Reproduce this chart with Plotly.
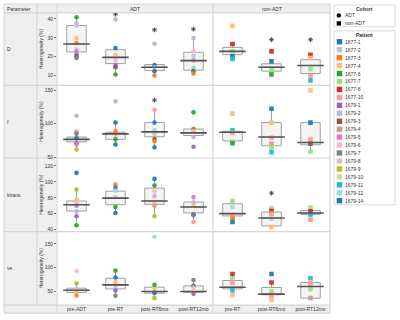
import plotly.graph_objects as go

W, H = 400, 320

PARAMS = ["D", "f", "ktrans", "ve"]
COHORTS = ["ADT", "non-ADT"]
ADT_TIMES = ["pre-ADT", "pre-RT", "post-RT6mo", "post-RT12mo"]
NONADT_TIMES = ["pre-RT", "post-RT6mo", "post-RT12mo"]

PATIENTS = ["1677-1", "1677-2", "1677-3", "1677-4", "1677-6", "1677-7", "1677-8", "1677-10",
            "1679-1", "1679-2", "1679-3", "1679-4", "1679-5", "1679-6", "1679-7", "1679-8",
            "1679-9", "1679-10", "1679-11", "1679-12", "1679-14"]
PATIENT_COLORS = ["#1f77b4", "#aec7e8", "#ff7f0e", "#ffbb78", "#2ca02c", "#98df8a", "#d62728", "#ff9896",
                  "#9467bd", "#c5b0d5", "#8c564b", "#c49c94", "#e377c2", "#f7b6d2", "#7f7f7f", "#c7c7c7",
                  "#bcbd22", "#dbdb8d", "#17becf", "#9edae5", "#1f77b4"]

Y_RANGES = [[4.7, 43.2], [48.5, 157.5], [37.5, 130], [21.5, 175.6]]
Y_TICKS = [[10, 20, 30, 40], [50, 100, 150], [40, 60, 80, 100, 120], [50, 100, 150]]
Y_TITLE = "Heterogeneity (%)"

# patient points: (cohort, timepoint, patient, value)
D_POINTS = [
    ("ADT", "pre-ADT", "1677-6", 40.9), ("ADT", "pre-ADT", "1679-2", 37.7), ("ADT", "pre-ADT", "1677-2", 36.5),
    ("ADT", "pre-ADT", "1677-4", 29.8), ("ADT", "pre-ADT", "1677-3", 27.2), ("ADT", "pre-ADT", "1679-6", 24.0),
    ("ADT", "pre-ADT", "1679-5", 22.8), ("ADT", "pre-ADT", "1679-1", 21.0), ("ADT", "pre-ADT", "1679-3", 20.2),
    ("ADT", "pre-ADT", "1679-7", 19.3),
    ("ADT", "pre-RT", "1679-2", 39.8), ("ADT", "pre-RT", "1679-14", 24.6), ("ADT", "pre-RT", "1677-4", 21.0),
    ("ADT", "pre-RT", "1679-6", 17.9), ("ADT", "pre-RT", "1679-1", 15.3), ("ADT", "pre-RT", "1679-3", 14.4),
    ("ADT", "pre-RT", "1677-6", 10.5),
    ("ADT", "post-RT6mo", "1679-2", 26.8), ("ADT", "post-RT6mo", "1679-14", 15.6), ("ADT", "post-RT6mo", "1677-2", 14.4),
    ("ADT", "post-RT6mo", "1677-1", 12.3), ("ADT", "post-RT6mo", "1677-3", 10.0),
    ("ADT", "post-RT12mo", "1679-2", 29.8), ("ADT", "post-RT12mo", "1679-6", 22.8), ("ADT", "post-RT12mo", "1677-2", 20.5),
    ("ADT", "post-RT12mo", "1679-4", 18.0), ("ADT", "post-RT12mo", "1677-7", 14.1), ("ADT", "post-RT12mo", "1679-14", 12.3),
    ("ADT", "post-RT12mo", "1677-3", 11.0),
    ("non-ADT", "pre-RT", "1677-4", 36.3), ("non-ADT", "pre-RT", "1677-8", 26.7), ("non-ADT", "pre-RT", "1677-7", 22.8),
    ("non-ADT", "pre-RT", "1677-1", 20.2), ("non-ADT", "pre-RT", "1679-11", 18.8),
    ("non-ADT", "post-RT6mo", "1677-8", 22.8), ("non-ADT", "post-RT6mo", "1677-1", 17.5), ("non-ADT", "post-RT6mo", "1679-12", 13.8),
    ("non-ADT", "post-RT6mo", "1677-7", 12.5), ("non-ADT", "post-RT6mo", "1677-6", 10.5),
    ("non-ADT", "post-RT12mo", "1677-8", 21.0), ("non-ADT", "post-RT12mo", "1677-4", 19.3), ("non-ADT", "post-RT12mo", "1677-7", 13.5),
    ("non-ADT", "post-RT12mo", "1677-10", 9.6), ("non-ADT", "post-RT12mo", "1679-11", 7.3),
]
F_POINTS = [
    ("ADT", "pre-ADT", "1679-2", 111.9), ("ADT", "pre-ADT", "1677-4", 88.7), ("ADT", "pre-ADT", "1677-10", 87.0),
    ("ADT", "pre-ADT", "1679-7", 85.0), ("ADT", "pre-ADT", "1679-14", 78.0), ("ADT", "pre-ADT", "1679-1", 70.7),
    ("ADT", "pre-ADT", "1679-5", 69.0), ("ADT", "pre-ADT", "1679-9", 61.2),
    ("ADT", "pre-RT", "1679-2", 133.6), ("ADT", "pre-RT", "1679-14", 101.7), ("ADT", "pre-RT", "1677-3", 88.7),
    ("ADT", "pre-RT", "1679-6", 82.0), ("ADT", "pre-RT", "1677-6", 76.5), ("ADT", "pre-RT", "1677-1", 68.8),
    ("ADT", "post-RT6mo", "1677-10", 121.0), ("ADT", "post-RT6mo", "1679-14", 101.7), ("ADT", "post-RT6mo", "1677-2", 90.0),
    ("ADT", "post-RT6mo", "1677-7", 85.0), ("ADT", "post-RT6mo", "1679-3", 77.0), ("ADT", "post-RT6mo", "1677-3", 73.6),
    ("ADT", "post-RT6mo", "1677-1", 64.5),
    ("ADT", "post-RT12mo", "1677-6", 117.1), ("ADT", "post-RT12mo", "1679-7", 92.0), ("ADT", "post-RT12mo", "1677-4", 88.7),
    ("ADT", "post-RT12mo", "1679-2", 80.0), ("ADT", "post-RT12mo", "1679-1", 65.5),
    ("non-ADT", "pre-RT", "1677-4", 115.2), ("non-ADT", "pre-RT", "1679-11", 90.1), ("non-ADT", "pre-RT", "1677-10", 86.0),
    ("non-ADT", "pre-RT", "1677-7", 72.8), ("non-ADT", "pre-RT", "1677-6", 70.7),
    ("non-ADT", "post-RT6mo", "1677-1", 122.5), ("non-ADT", "post-RT6mo", "1677-4", 101.7), ("non-ADT", "post-RT6mo", "1677-10", 79.0),
    ("non-ADT", "post-RT6mo", "1679-4", 70.0), ("non-ADT", "post-RT6mo", "1677-7", 64.5), ("non-ADT", "post-RT6mo", "1679-11", 57.2),
    ("non-ADT", "post-RT12mo", "1677-4", 150.0), ("non-ADT", "post-RT12mo", "1677-1", 101.7), ("non-ADT", "post-RT12mo", "1677-10", 76.5),
    ("non-ADT", "post-RT12mo", "1679-3", 70.0), ("non-ADT", "post-RT12mo", "1677-7", 58.2),
]
KTRANS_POINTS = [
    ("ADT", "pre-ADT", "1679-14", 111.3), ("ADT", "pre-ADT", "1679-9", 90.4), ("ADT", "pre-ADT", "1677-4", 77.5),
    ("ADT", "pre-ADT", "1679-6", 73.0), ("ADT", "pre-ADT", "1679-5", 70.0), ("ADT", "pre-ADT", "1679-2", 63.0),
    ("ADT", "pre-ADT", "1679-1", 56.7), ("ADT", "pre-ADT", "1677-6", 45.4),
    ("ADT", "pre-RT", "1677-3", 96.7), ("ADT", "pre-RT", "1679-14", 92.5), ("ADT", "pre-RT", "1677-2", 89.0),
    ("ADT", "pre-RT", "1679-6", 81.0), ("ADT", "pre-RT", "1677-6", 68.3), ("ADT", "pre-RT", "1677-1", 60.9),
    ("ADT", "post-RT6mo", "1679-14", 103.7), ("ADT", "post-RT6mo", "1677-6", 95.4), ("ADT", "post-RT6mo", "1679-6", 88.0),
    ("ADT", "post-RT6mo", "1679-2", 82.0), ("ADT", "post-RT6mo", "1677-4", 73.0), ("ADT", "post-RT6mo", "1679-4", 70.0),
    ("ADT", "post-RT6mo", "1679-9", 56.7),
    ("ADT", "post-RT12mo", "1679-5", 80.8), ("ADT", "post-RT12mo", "1679-2", 74.0), ("ADT", "post-RT12mo", "1677-4", 70.0),
    ("ADT", "post-RT12mo", "1677-6", 59.2), ("ADT", "post-RT12mo", "1679-1", 58.0), ("ADT", "post-RT12mo", "1677-10", 49.6),
    ("non-ADT", "pre-RT", "1677-7", 75.9), ("non-ADT", "pre-RT", "1679-12", 68.3), ("non-ADT", "pre-RT", "1677-10", 58.0),
    ("non-ADT", "pre-RT", "1677-3", 54.6), ("non-ADT", "pre-RT", "1677-1", 49.6),
    ("non-ADT", "post-RT6mo", "1677-7", 67.1), ("non-ADT", "post-RT6mo", "1677-8", 63.3), ("non-ADT", "post-RT6mo", "1677-10", 60.0),
    ("non-ADT", "post-RT6mo", "1679-12", 54.0), ("non-ADT", "post-RT6mo", "1677-4", 43.3),
    ("non-ADT", "post-RT12mo", "1677-7", 67.5), ("non-ADT", "post-RT12mo", "1677-8", 63.0), ("non-ADT", "post-RT12mo", "1679-11", 59.0),
    ("non-ADT", "post-RT12mo", "1677-10", 52.5),
]
VE_POINTS = [
    ("ADT", "pre-ADT", "1679-6", 92.9), ("ADT", "pre-ADT", "1679-9", 67.3), ("ADT", "pre-ADT", "1677-2", 55.0),
    ("ADT", "pre-ADT", "1677-4", 50.0), ("ADT", "pre-ADT", "1677-3", 41.7),
    ("ADT", "pre-RT", "1677-6", 93.8), ("ADT", "pre-RT", "1679-14", 79.2), ("ADT", "pre-RT", "1677-4", 70.0),
    ("ADT", "pre-RT", "1679-2", 62.0), ("ADT", "pre-RT", "1679-1", 52.1), ("ADT", "pre-RT", "1679-7", 40.8),
    ("ADT", "post-RT6mo", "1679-12", 164.6), ("ADT", "post-RT6mo", "1677-6", 63.8), ("ADT", "post-RT6mo", "1677-4", 55.0),
    ("ADT", "post-RT6mo", "1679-14", 47.0), ("ADT", "post-RT6mo", "1679-9", 36.0),
    ("ADT", "post-RT12mo", "1679-7", 74.2), ("ADT", "post-RT12mo", "1679-14", 62.0), ("ADT", "post-RT12mo", "1677-4", 58.0),
    ("ADT", "post-RT12mo", "1679-1", 45.0),
    ("non-ADT", "pre-RT", "1677-8", 86.7), ("non-ADT", "pre-RT", "1677-7", 76.3), ("non-ADT", "pre-RT", "1677-10", 68.0),
    ("non-ADT", "pre-RT", "1679-11", 52.7), ("non-ADT", "pre-RT", "1677-4", 42.9),
    ("non-ADT", "post-RT6mo", "1677-1", 86.7), ("non-ADT", "post-RT6mo", "1677-8", 68.8), ("non-ADT", "post-RT6mo", "1677-7", 50.0),
    ("non-ADT", "post-RT6mo", "1677-10", 40.0), ("non-ADT", "post-RT6mo", "1677-4", 32.5),
    ("non-ADT", "post-RT12mo", "1679-11", 77.7), ("non-ADT", "post-RT12mo", "1677-4", 70.0), ("non-ADT", "post-RT12mo", "1677-10", 66.0),
    ("non-ADT", "post-RT12mo", "1677-7", 55.4), ("non-ADT", "post-RT12mo", "1679-4", 36.0),
]

# box statistics: (cohort, timepoint, lowerfence, q1, median, q3, upperfence)
D_BOXES = [
    ("ADT", "pre-ADT", 19.3, 22.5, 26.7, 36.5, 40.9), ("ADT", "pre-RT", 10.5, 16.3, 19.6, 23.7, 24.6),
    ("ADT", "post-RT6mo", 10.0, 12.6, 14.4, 15.8, 15.8), ("ADT", "post-RT12mo", 11.0, 12.8, 17.9, 22.3, 29.8),
    ("non-ADT", "pre-RT", 18.8, 21.0, 22.8, 24.9, 26.7), ("non-ADT", "post-RT6mo", 10.5, 12.3, 14.4, 16.2, 17.5),
    ("non-ADT", "post-RT12mo", 7.3, 11.0, 15.3, 18.4, 21.0),
]
F_BOXES = [
    ("ADT", "pre-ADT", 61.2, 72.7, 76.5, 80.0, 88.7), ("ADT", "pre-RT", 68.8, 76.5, 84.8, 87.2, 101.7),
    ("ADT", "post-RT6mo", 64.5, 80.4, 87.7, 101.7, 121.0), ("ADT", "post-RT12mo", 80.0, 82.3, 86.2, 92.0, 92.0),
    ("non-ADT", "pre-RT", 70.7, 74.2, 87.2, 88.7, 90.1), ("non-ADT", "post-RT6mo", 57.2, 67.0, 80.0, 101.7, 122.5),
    ("non-ADT", "post-RT12mo", 58.2, 68.4, 71.7, 101.7, 101.7),
]
KTRANS_BOXES = [
    ("ADT", "pre-ADT", 45.4, 63.3, 71.3, 75.9, 90.4), ("ADT", "pre-RT", 60.9, 71.3, 79.6, 88.3, 96.7),
    ("ADT", "post-RT6mo", 56.7, 71.7, 75.9, 92.1, 103.7), ("ADT", "post-RT12mo", 49.6, 60.9, 68.3, 74.6, 80.8),
    ("non-ADT", "pre-RT", 49.6, 57.1, 60.0, 72.5, 75.9), ("non-ADT", "post-RT6mo", 43.3, 44.6, 54.6, 62.1, 67.1),
    ("non-ADT", "post-RT12mo", 52.5, 58.8, 60.9, 64.1, 67.5),
]
VE_BOXES = [
    ("ADT", "pre-ADT", 41.7, 47.9, 52.7, 56.9, 67.3), ("ADT", "pre-RT", 40.8, 55.4, 63.8, 77.7, 93.8),
    ("ADT", "post-RT6mo", 36.0, 46.5, 50.0, 59.0, 63.8), ("ADT", "post-RT12mo", 45.0, 48.0, 50.0, 61.7, 74.2),
    ("non-ADT", "pre-RT", 42.9, 55.4, 59.0, 72.9, 86.7), ("non-ADT", "post-RT6mo", 32.5, 43.0, 44.4, 58.3, 68.8),
    ("non-ADT", "post-RT12mo", 36.0, 36.0, 60.4, 68.8, 77.7),
]

# outliers drawn as stars: (cohort, timepoint, value)
D_OUTLIERS = [("ADT", "pre-RT", 42.6), ("ADT", "post-RT6mo", 34.2), ("ADT", "post-RT12mo", 34.6),
              ("non-ADT", "post-RT6mo", 29.0), ("non-ADT", "post-RT12mo", 29.0)]
F_OUTLIERS = [("ADT", "post-RT6mo", 135.5)]
KTRANS_OUTLIERS = [("non-ADT", "post-RT6mo", 85.8)]
VE_OUTLIERS = []

ALL_POINTS = [D_POINTS, F_POINTS, KTRANS_POINTS, VE_POINTS]
ALL_BOXES = [D_BOXES, F_BOXES, KTRANS_BOXES, VE_BOXES]
ALL_OUTLIERS = [D_OUTLIERS, F_OUTLIERS, KTRANS_OUTLIERS, VE_OUTLIERS]

# ---------------- layout geometry (pixels) ----------------
FONT = "Liberation Sans, Arial, sans-serif"
TXT = "#333333"
GRAY_BG = "#efefef"
LINE = "#d5d5d5"

X_LEFT, X_PARAM, X_AXIS, X_SPLIT, X_RIGHT = 4, 37, 57, 213, 330
Y_TOP, Y_HEAD = 4, 13
ROW_EDGES = [13, 86, 159, 233, 307]
Y_BOTTOM = 315


def px(x):
    return x / W


def py(y):
    return 1 - y / H


color_of = dict(zip(PATIENTS, PATIENT_COLORS))
col_bounds = [(X_AXIS, X_SPLIT), (X_SPLIT, X_RIGHT)]
col_cats = [ADT_TIMES, NONADT_TIMES]

fig = go.Figure()
layout_axes = {}

for r, param in enumerate(PARAMS):
    for c, cohort in enumerate(COHORTS):
        n = r * 2 + c + 1
        xs = "x" if n == 1 else f"x{n}"
        ys = "y" if n == 1 else f"y{n}"
        xk = "xaxis" if n == 1 else f"xaxis{n}"
        yk = "yaxis" if n == 1 else f"yaxis{n}"
        cats = col_cats[c]
        layout_axes[xk] = dict(
            domain=[px(col_bounds[c][0]), px(col_bounds[c][1])],
            anchor=ys, type="category", categoryorder="array", categoryarray=cats,
            range=[-0.5, len(cats) - 0.5], showgrid=False, zeroline=False, showline=False,
            ticks="", showticklabels=(r == 3),
            tickfont=dict(family=FONT, size=5, color=TXT),
        )
        layout_axes[yk] = dict(
            domain=[py(ROW_EDGES[r + 1]), py(ROW_EDGES[r])],
            anchor=xs, range=Y_RANGES[r], tickvals=Y_TICKS[r],
            showgrid=False, zeroline=False, showline=False,
            ticks="outside" if c == 0 else "", ticklen=2, tickwidth=0.8, tickcolor="#777",
            showticklabels=(c == 0),
            tickfont=dict(family=FONT, size=5, color=TXT),
        )

        boxes = [b for b in ALL_BOXES[r] if b[0] == cohort]
        for b in boxes:
            fig.add_trace(go.Box(
                x=[b[1]], lowerfence=[b[2]], q1=[b[3]], median=[b[4]], q3=[b[5]], upperfence=[b[6]],
                xaxis=xs, yaxis=ys, width=0.5, whiskerwidth=0, boxpoints=False,
                fillcolor="#f4f4f4", line=dict(color="#a0a0a0", width=1),
                showlegend=False, hoverinfo="skip",
            ))

        pts = [p for p in ALL_POINTS[r] if p[0] == cohort]
        fig.add_trace(go.Scatter(
            x=[p[1] for p in pts], y=[p[3] for p in pts], mode="markers",
            xaxis=xs, yaxis=ys, showlegend=False,
            text=[p[2] for p in pts],
            marker=dict(symbol="circle" if cohort == "ADT" else "square", size=4.6,
                        color=[color_of[p[2]] for p in pts], opacity=0.92,
                        line=dict(width=0)),
        ))

        fig.add_trace(go.Scatter(
            x=[b[1] for b in boxes], y=[b[4] for b in boxes], mode="markers",
            xaxis=xs, yaxis=ys, showlegend=False, hoverinfo="skip",
            marker=dict(symbol="line-ew", size=19, line=dict(color="#555555", width=1.6)),
        ))

        outs = [o for o in ALL_OUTLIERS[r] if o[0] == cohort]
        if outs:
            fig.add_trace(go.Scatter(
                x=[o[1] for o in outs], y=[o[2] for o in outs], mode="markers",
                xaxis=xs, yaxis=ys, showlegend=False, hoverinfo="skip",
                marker=dict(symbol="asterisk", size=4, line=dict(color="#444444", width=0.9)),
            ))

shapes = []


def rect(x0, y0, x1, y1, fill, line_color=None, lw=0, layer="below"):
    shapes.append(dict(type="rect", xref="paper", yref="paper", x0=px(x0), x1=px(x1), y0=py(y1), y1=py(y0),
                       fillcolor=fill, line=dict(color=line_color or fill, width=lw), layer=layer))


def hline(y, x0, x1, w=1):
    shapes.append(dict(type="line", xref="paper", yref="paper", x0=px(x0), x1=px(x1), y0=py(y), y1=py(y),
                       line=dict(color=LINE, width=w), layer="below"))


def vline(x, y0, y1, w=1):
    shapes.append(dict(type="line", xref="paper", yref="paper", x0=px(x), x1=px(x), y0=py(y0), y1=py(y1),
                       line=dict(color=LINE, width=w), layer="below"))


rect(X_LEFT, Y_TOP, X_RIGHT, Y_HEAD, GRAY_BG)
rect(X_LEFT, Y_HEAD, X_AXIS, ROW_EDGES[-1], GRAY_BG)
rect(X_LEFT, ROW_EDGES[-1], X_RIGHT, Y_BOTTOM, GRAY_BG)
for y in [Y_TOP, Y_HEAD] + ROW_EDGES[1:] + [Y_BOTTOM]:
    hline(y, X_LEFT, X_RIGHT, 1.2)
vline(X_LEFT, Y_TOP, Y_BOTTOM)
vline(X_PARAM, Y_TOP, ROW_EDGES[-1])
vline(X_AXIS, Y_TOP, Y_BOTTOM)
vline(X_SPLIT, Y_TOP, Y_BOTTOM, 1.2)
vline(X_RIGHT, Y_TOP, Y_BOTTOM, 1.2)

annotations = []


def text(x, y, s, size=5, anchor="left", angle=0, bold=False, color=TXT):
    annotations.append(dict(xref="paper", yref="paper", x=px(x), y=py(y), text=f"<b>{s}</b>" if bold else s,
                            showarrow=False, xanchor=anchor, yanchor="middle", textangle=angle,
                            font=dict(family=FONT, size=size, color=color), borderpad=0))


text(6, 8.7, "Parameter")
text((X_AXIS + X_SPLIT) / 2, 8.7, COHORTS[0], anchor="center")
text((X_SPLIT + X_RIGHT) / 2, 8.7, COHORTS[1], anchor="center")
for r, param in enumerate(PARAMS):
    yc = (ROW_EDGES[r] + ROW_EDGES[r + 1]) / 2
    text(6, yc, param)
    text(41, yc, Y_TITLE, anchor="center", angle=-90)

# ---------------- legends ----------------
LX0, LX1 = 334, 395
rect(LX0, 5, LX1, 27, "white", "#d0d0d0", 0.8, layer="above")
text((LX0 + LX1) / 2, 9.3, "Cohort", anchor="center", bold=True)
shapes.append(dict(type="circle", xref="paper", yref="paper", x0=px(336.6), x1=px(341), y0=py(17.7), y1=py(13.3),
                   fillcolor="black", line=dict(width=0), layer="above"))
text(343.5, 15.5, COHORTS[0])
rect(336.7, 21.4, 341, 25.7, "black", layer="above")
text(343.5, 23.5, COHORTS[1])

rect(LX0, 31, LX1, 206, "white", "#d0d0d0", 0.8, layer="above")
text((LX0 + LX1) / 2, 34.8, "Patient", anchor="center", bold=True)
for i, (p, col) in enumerate(zip(PATIENTS, PATIENT_COLORS)):
    yc = 42 + 8 * i
    rect(336.7, yc - 2.7, 342.2, yc + 2.7, col, layer="above")
    text(344.2, yc, p)

fig.update_layout(
    width=W, height=H, margin=dict(l=0, r=0, t=0, b=0),
    paper_bgcolor="white", plot_bgcolor="rgba(0,0,0,0)",
    showlegend=False, shapes=shapes, annotations=annotations,
    font=dict(family=FONT, size=5, color=TXT),
    **layout_axes,
)

fig.write_html("out.html", config={"displayModeBar": False},
               post_script="document.body.style.margin='0px';")
